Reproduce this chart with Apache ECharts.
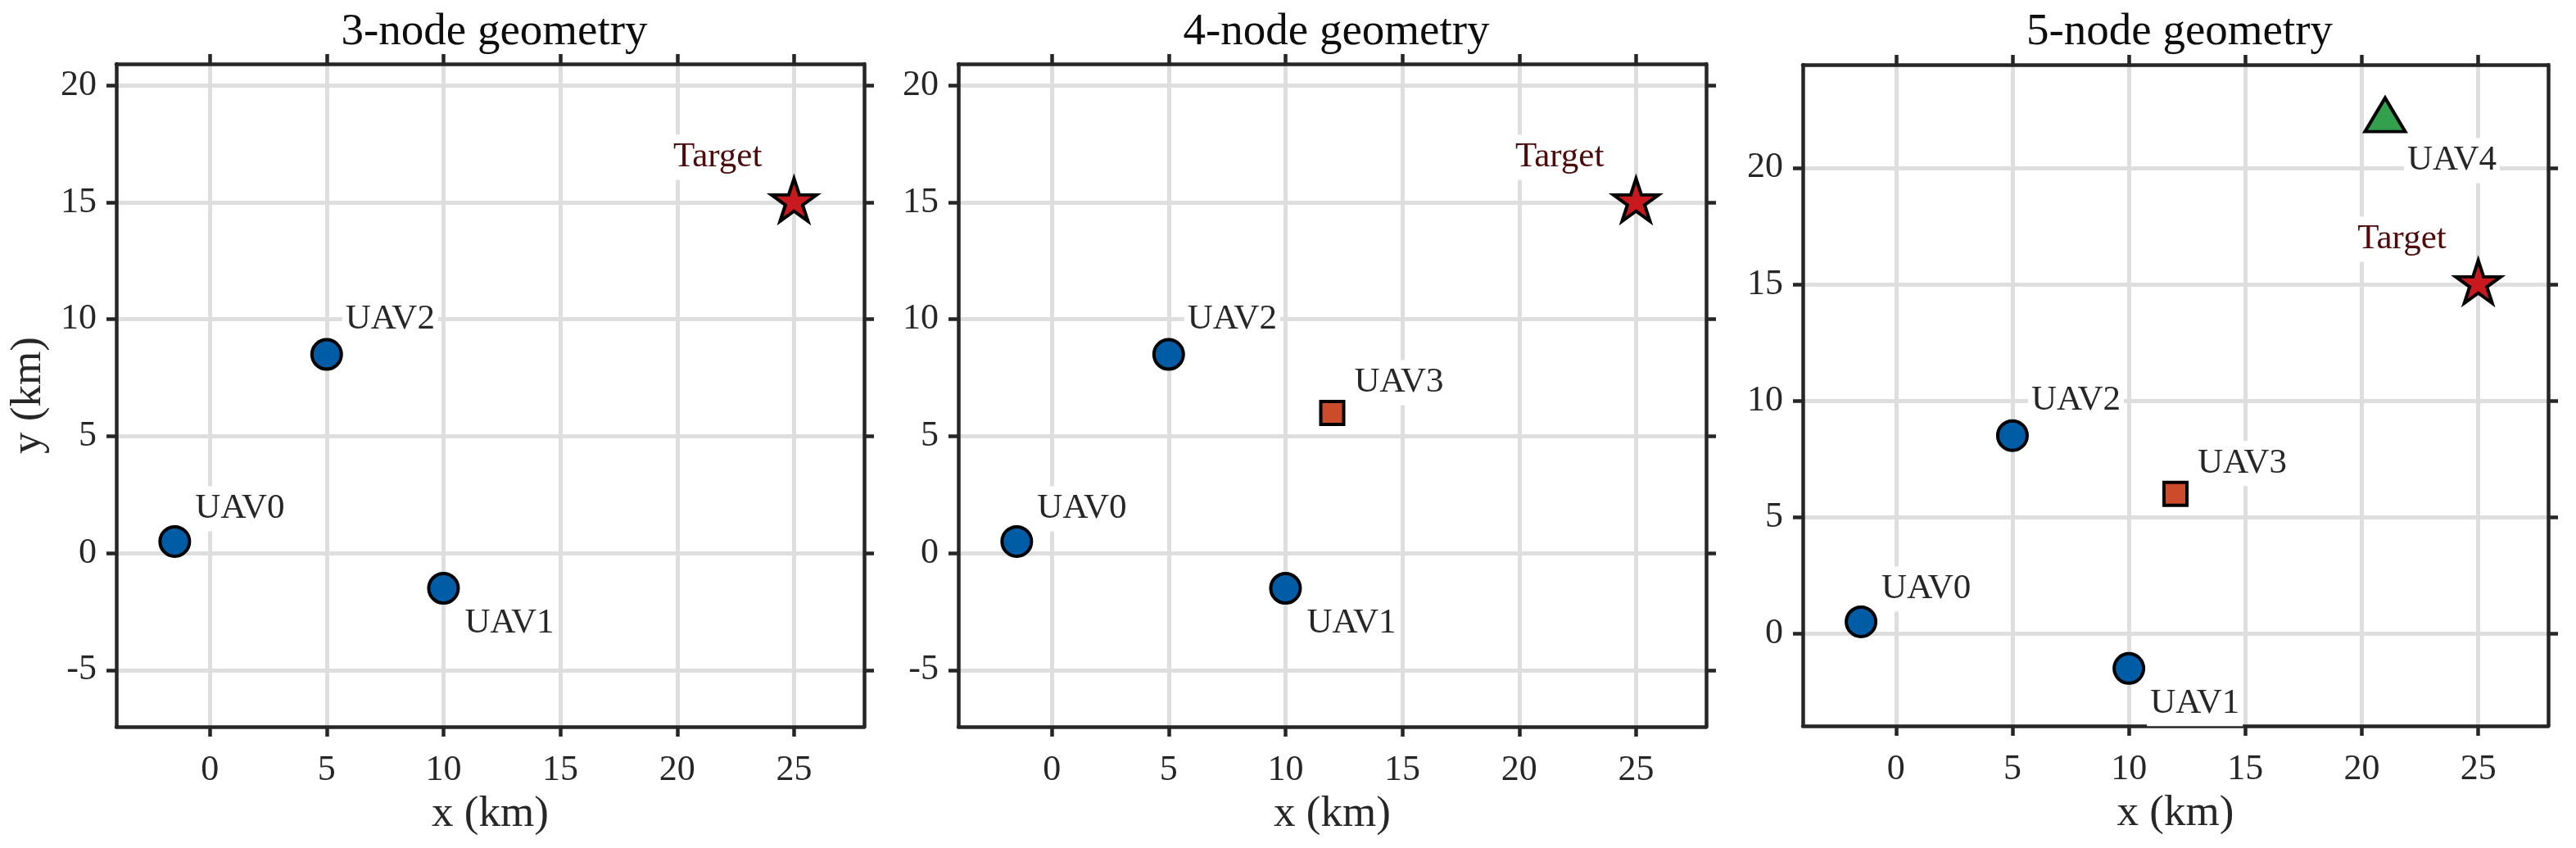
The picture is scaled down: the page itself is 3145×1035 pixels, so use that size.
<!DOCTYPE html>
<html><head>
<meta charset="UTF-8">
<title>UAV geometry</title>
<script src="https://cdn.jsdelivr.net/npm/echarts@6/dist/echarts.min.js"></script>
<style>html,body{margin:0;padding:0;background:#fff;}#main{width:3145px;height:1035px;}</style>
</head>
<body>
<div id="main"></div>
<script type="text/javascript">
// data
var panelTitles = ['3-node geometry', '4-node geometry', '5-node geometry'];
var nodeCounts = [3, 4, 5];
var uavNames = ['UAV0', 'UAV1', 'UAV2', 'UAV3', 'UAV4'];
var uavX = [-1.5, 10, 5, 12, 21];
var uavY = [0.5, -1.5, 8.5, 6, 22];
var targetName = 'Target';
var targetX = 25;
var targetY = 15;
var xTicks = [0, 5, 10, 15, 20, 25];
var yTicksLow = [-5, 0, 5, 10, 15, 20];
var yTicksHigh = [0, 5, 10, 15, 20];
var xLim = [-4, 28];
var yLims = [[-7.42, 20.92], [-7.42, 20.92], [-3.97, 24.43]];

// look
var FONT = 'Liberation Serif';
var AX = '#262626';
var GRIDC = '#dedede';
var boxes = [
	{left: 142, top: 78, width: 913, height: 809},
	{left: 1170, top: 78, width: 913, height: 809},
	{left: 2201, top: 79, width: 910, height: 807}
];
var STAR = 'path://M50,0 L61.23,34.55 L97.55,34.55 L68.17,55.9 L79.39,90.45 L50,69.1 L20.61,90.45 L31.83,55.9 L2.45,34.55 L38.77,34.55 Z';
var marks = {
	UAV0: {symbol: 'circle', size: 36, color: '#005ca5'},
	UAV1: {symbol: 'circle', size: 36, color: '#005ca5'},
	UAV2: {symbol: 'circle', size: 36, color: '#005ca5'},
	UAV3: {symbol: 'rect', size: 28, color: '#cc4b2b'},
	UAV4: {symbol: 'triangle', size: [49, 41], color: '#33a04d', shift: [0, -8]}
};
var labelOff = {UAV0: [21, -40], UAV1: [22, 43], UAV2: [19, -43], UAV3: [23, -37], UAV4: [23, 56]};

function tickAxis(extra) {
	var base = {
		type: 'value',
		axisLine: {show: true, onZero: false, lineStyle: {color: AX, width: 4.5}},
		axisTick: {show: true, inside: false, length: 12, lineStyle: {color: AX, width: 4.5}},
		axisLabel: {show: false},
		splitLine: {show: false}
	};
	for (var k in extra) base[k] = extra[k];
	return base;
}
function ticks(vals) {
	return {show: true, inside: false, length: 12, customValues: vals, lineStyle: {color: AX, width: 4.5}};
}

var grids = [], xAxes = [], yAxes = [], titles = [], series = [];
for (var i = 0; i < 3; i++) {
	var b = boxes[i];
	var yt = i < 2 ? yTicksLow : yTicksHigh;
	grids.push({left: b.left, top: b.top, width: b.width, height: b.height, containLabel: false});
	titles.push({
		text: panelTitles[i], left: b.left + b.width / 2, top: 7, textAlign: 'center',
		textStyle: {fontFamily: FONT, fontSize: 55, fontWeight: 'normal', color: '#0d0d0d'}
	});
	// bottom x
	xAxes.push(tickAxis({
		gridIndex: i, position: 'bottom', min: xLim[0], max: xLim[1],
		axisTick: ticks(xTicks),
		axisLabel: {show: true, customValues: xTicks, margin: 31, fontFamily: FONT, fontSize: 44, color: AX},
		splitLine: {show: true, lineStyle: {color: GRIDC, width: 5}},
		name: 'x (km)', nameLocation: 'middle', nameGap: 81,
		nameTextStyle: {fontFamily: FONT, fontSize: 53, color: AX}
	}));
	// top x, box ticks only
	xAxes.push(tickAxis({gridIndex: i, position: 'top', min: xLim[0], max: xLim[1], axisTick: ticks(xTicks)}));
	var yl = tickAxis({
		gridIndex: i, position: 'left', min: yLims[i][0], max: yLims[i][1],
		axisTick: ticks(yt),
		axisLabel: {show: true, customValues: yt, margin: 24, fontFamily: FONT, fontSize: 44, color: AX},
		splitLine: {show: true, lineStyle: {color: GRIDC, width: 5}}
	});
	if (i == 0) {
		yl.name = 'y (km)'; yl.nameLocation = 'middle'; yl.nameGap = 80;
		yl.nameTextStyle = {fontFamily: FONT, fontSize: 53, color: AX};
	}
	yAxes.push(yl);
	yAxes.push(tickAxis({gridIndex: i, position: 'right', min: yLims[i][0], max: yLims[i][1], axisTick: ticks(yt)}));

	// nodes
	for (var j = 0; j < nodeCounts[i]; j++) {
		var m = marks[uavNames[j]];
		series.push({
			type: 'scatter', name: uavNames[j], xAxisIndex: 2 * i, yAxisIndex: 2 * i,
			symbol: m.symbol, symbolSize: m.size, symbolOffset: m.shift || [0, 0],
			itemStyle: {color: m.color, borderColor: '#000', borderWidth: 4, opacity: 1},
			label: {
				show: true, formatter: uavNames[j], position: 'inside', align: 'left', verticalAlign: 'middle',
				offset: labelOff[uavNames[j]], fontFamily: FONT, fontSize: 43, lineHeight: 43, color: AX,
				backgroundColor: '#fff', padding: [6, 4]
			},
			data: [[uavX[j], uavY[j]]], z: 3
		});
	}
	// target
	series.push({
		type: 'scatter', name: targetName, xAxisIndex: 2 * i, yAxisIndex: 2 * i,
		symbol: STAR, symbolSize: [55, 52], symbolOffset: [0, -3],
		itemStyle: {color: '#c8191f', borderColor: '#000', borderWidth: 4, borderJoin: 'miter', opacity: 1},
		label: {
			show: true, formatter: targetName, position: 'inside', align: 'right', verticalAlign: 'middle',
			offset: [-35, -52], fontFamily: FONT, fontSize: 43, lineHeight: 43, color: '#4d0b0b',
			backgroundColor: '#fff', padding: [6, 4]
		},
		data: [[targetX, targetY]], z: 3
	});
}

var chart = echarts.init(document.getElementById('main'));
chart.setOption({
	animation: false,
	backgroundColor: '#fff',
	title: titles,
	grid: grids,
	xAxis: xAxes,
	yAxis: yAxes,
	series: series
});
</script>
</body>
</html>
